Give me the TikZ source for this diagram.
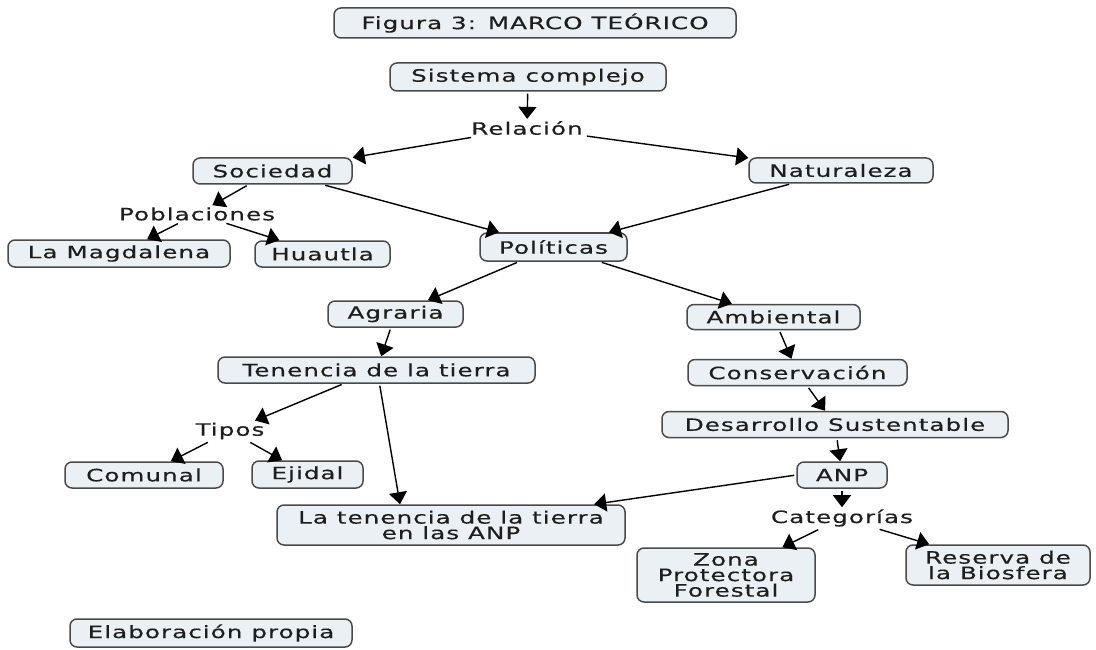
\documentclass[tikz,border=0pt]{standalone}
\usepackage{fontspec}
\setmainfont{DejaVu Sans}[FakeStretch=1.45,LetterSpace=6,FakeBold=0.4]
\usetikzlibrary{arrows.meta}
\definecolor{boxfill}{HTML}{EBF0F5}
\definecolor{boxline}{HTML}{4A4A4A}
\definecolor{txt}{HTML}{1E1E1E}
\newcommand{\fsz}{\fontsize{17}{15.5}\selectfont}
\tikzset{
  box/.style 2 args={draw=boxline, line width=1.5pt, fill=boxfill, rounded corners=7pt,
    inner sep=0pt, align=center, font=\fsz, text=txt, minimum width=#1, minimum height=#2},
  lbl/.style={inner sep=2pt, font=\fsz, text=txt},
  arr/.style={line width=1.4pt, -{Triangle[length=12pt,width=18pt]}, shorten <=2pt}
}
\begin{document}
\begin{tikzpicture}[x=1pt,y=-1pt]
\useasboundingbox (0,0) rectangle (1096,650);
% nodes
\node[box={402pt}{30pt}] (title) at (535,23) {Figura 3: MARCO TEÓRICO};
\node[box={276pt}{28pt}] (sis) at (528,77) {Sistema complejo};
\node[lbl] (rel) at (527,128) {Relación};
\node[box={159pt}{26pt}] (soc) at (272.5,171) {Sociedad};
\node[box={184pt}{25pt}] (nat) at (841,170.5) {Naturaleza};
\node[lbl] (pob) at (197,214) {Poblaciones};
\node[box={222pt}{27pt}] (mag) at (119,253.5) {La Magdalena};
\node[box={135pt}{26pt}] (hua) at (322.5,254) {Huautla};
\node[box={147pt}{28pt}] (pol) at (553.5,247) {Políticas};
\node[box={135pt}{26pt}] (agr) at (395.5,314) {Agraria};
\node[box={317pt}{26pt}] (ten) at (376.5,370) {Tenencia de la tierra};
\node[box={173pt}{25pt}] (amb) at (773.5,317) {Ambiental};
\node[box={219pt}{26pt}] (con) at (797.5,372.5) {Conservación};
\node[box={346pt}{26pt}] (des) at (835,424.5) {Desarrollo Sustentable};
\node[box={90pt}{26pt}] (anp) at (842,475) {ANP};
\node[lbl] (tip) at (230,431) {Tipos};
\node[box={158pt}{26pt}] (com) at (144,475) {Comunal};
\node[box={111pt}{27pt}] (eji) at (307.5,474.5) {Ejidal};
\node[box={348pt}{40pt}] (lat) at (451,525) {La tenencia de la tierra\\en las ANP};
\node[lbl] (cat) at (842,518) {Categorías};
\node[box={178pt}{54pt}] (zon) at (726,575) {Zona\\Protectora\\Forestal};
\node[box={184pt}{40pt}] (res) at (998,565) {Reserva de\\la Biosfera};
\node[box={282pt}{28pt}] (ela) at (211,633) {Elaboración propia};
% connectors
\draw[arr] (sis) -- (rel);
\draw[arr] (rel) -- (soc);
\draw[arr] (rel) -- (nat);
\draw[arr] (soc) -- (pob);
\draw[arr] (pob) -- (mag);
\draw[arr] (pob) -- (hua);
\draw[arr] (soc) -- (pol);
\draw[arr] (nat) -- (pol);
\draw[arr] (pol) -- (agr);
\draw[arr] (pol) -- (amb);
\draw[arr] (agr) -- (ten);
\draw[arr] (amb) -- (con);
\draw[arr] (con) -- (des);
\draw[arr] (des) -- (anp);
\draw[arr] (ten) -- (tip);
\draw[arr] ([xshift=3pt]ten.south) -- ([xshift=-51pt]lat.north);
\draw[arr] (tip) -- (com);
\draw[arr] (tip) -- (eji);
\draw[arr] (anp.west) -- (lat);
\draw[arr] (anp) -- (cat);
\draw[arr] (cat) -- (zon);
\draw[arr] (cat) -- (res);
\end{tikzpicture}
\end{document}
